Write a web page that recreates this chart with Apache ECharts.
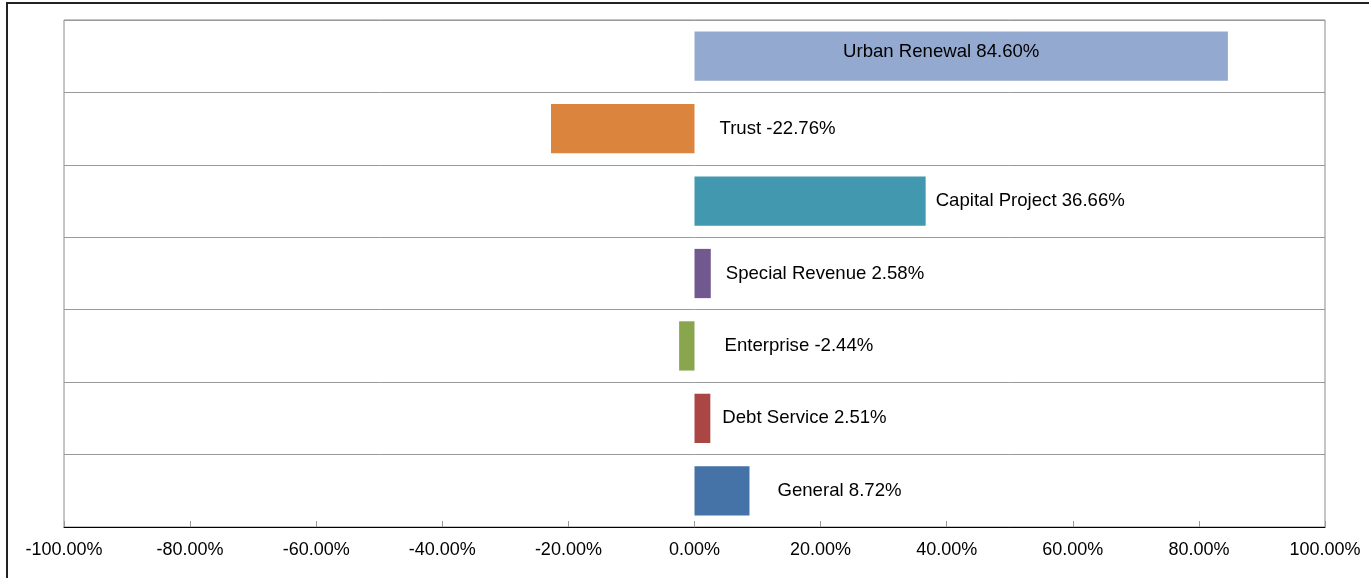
<!DOCTYPE html>
<html>
<head>
<meta charset="utf-8">
<script src="https://cdn.jsdelivr.net/npm/echarts@6/dist/echarts.min.js"></script>
<style>
  html, body { margin: 0; padding: 0; background: #fff; }
  #main { width: 1369px; height: 578px; }
</style>
</head>
<body>
<div id="main"></div>
<script>
// 类别（从下到上）
var funds = ['General', 'Debt Service', 'Enterprise', 'Special Revenue', 'Capital Project', 'Trust', 'Urban Renewal'];
// 百分比变化
var changes = [8.72, 2.51, -2.44, 2.58, 36.66, -22.76, 84.60];
// 每个柱子的颜色
var barColors = ['#4572A7', '#AA4643', '#89A54E', '#71588F', '#4198AF', '#DB843D', '#93A9CF'];
// x轴刻度
var tickMin = -100, tickMax = 100, tickStep = 20;

var myChart = echarts.init(document.getElementById('main'));

// 标签离柱子的距离，大致照着原图
var labelGap = { 'General': 28, 'Debt Service': 12, 'Enterprise': 30, 'Special Revenue': 15, 'Capital Project': 10, 'Trust': 25 };

var barData = funds.map(function (name, i) {
  var item = {
    value: changes[i],
    itemStyle: { color: barColors[i] },
    label: {}
  };
  if (name === 'Urban Renewal') {
    item.label = { position: 'inside', offset: [-20, -4] };
  } else {
    item.label = { position: 'right', distance: labelGap[name] };
  }
  return item;
});

var option = {
  animation: false,
  textStyle: { fontFamily: 'Liberation Sans, Arial, sans-serif' },
  graphic: [{
    type: 'rect',
    shape: { x: 7, y: 3, width: 1400, height: 620 },
    style: { fill: 'none', stroke: '#222', lineWidth: 2 },
    silent: true
  }],
  grid: {
    left: 64, right: 44, top: 20, bottom: 51,
    show: true,
    borderColor: '#8a8a8a',
    borderWidth: 1
  },
  xAxis: {
    type: 'value',
    min: tickMin,
    max: tickMax,
    interval: tickStep,
    axisLine: { show: true, onZero: false, lineStyle: { color: '#000', width: 1 } },
    axisTick: { show: true, inside: true, length: 6, lineStyle: { color: '#999' } },
    axisLabel: {
      color: '#000',
      fontSize: 18,
      margin: 14,
      formatter: function (v) { return v.toFixed(2) + '%'; }
    },
    splitLine: { show: false }
  },
  yAxis: {
    type: 'category',
    data: funds,
    axisLine: { show: false },
    axisTick: { show: false },
    axisLabel: { show: false },
    splitLine: { show: true, lineStyle: { color: '#999', width: 1 } }
  },
  series: [{
    type: 'bar',
    data: barData,
    barCategoryGap: '32%',
    label: {
      show: true,
      color: '#000',
      fontSize: 18.6,
      formatter: function (p) { return p.name + ' ' + p.value.toFixed(2) + '%'; }
    }
  }]
};

myChart.setOption(option);
</script>
</body>
</html>
